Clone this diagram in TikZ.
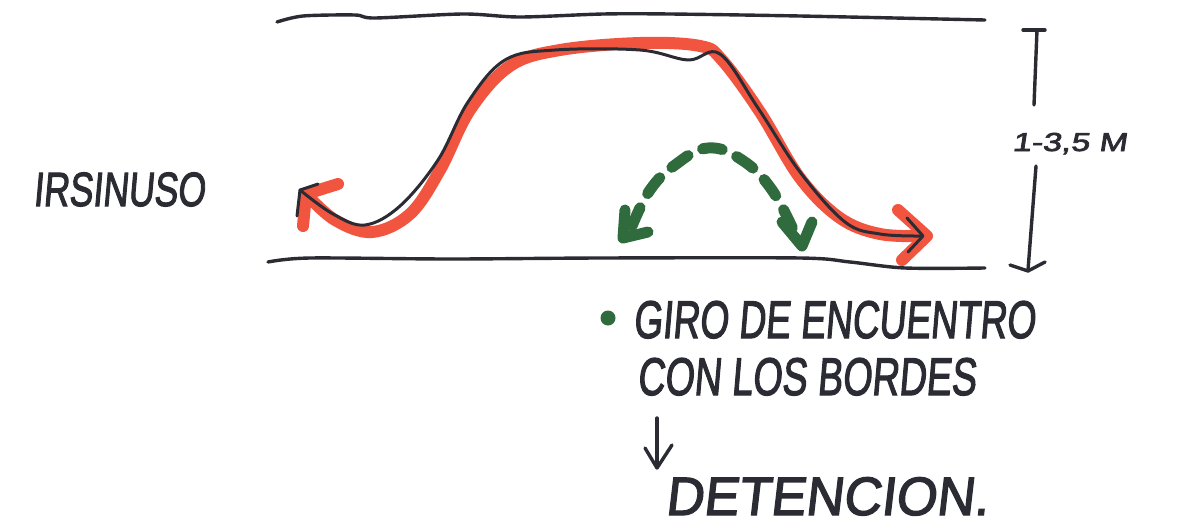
\documentclass[tikz,border=0pt]{standalone}
\usepackage{fontspec}
\newfontfamily\hand{Liberation Sans}[FakeSlant=0.12,FakeBold=2.5]
\definecolor{pen}{HTML}{2B2B33}
\definecolor{redpen}{HTML}{F2553F}
\definecolor{greenpen}{HTML}{2F6B3C}
\tikzset{
  pline/.style={draw=pen, line width=3.4pt, line cap=round, line join=round},
  redline/.style={draw=redpen, line width=12pt, line cap=round, line join=round},
  blkline/.style={draw=pen, line width=3pt, line cap=round, line join=round},
  grnline/.style={draw=greenpen, line width=11pt, line cap=round, line join=round},
  txt/.style={inner sep=0pt, text=pen, anchor=base west}
}
\begin{document}
\begin{tikzpicture}[x=1pt,y=-1pt]
\useasboundingbox[fill=white] (0,0) rectangle (1177,525);
% corridor borders
\draw[pline] plot[smooth,tension=0.5] coordinates {(277,22) (303,16) (355,15) (375,18) (463,14) (520,17) (603,14) (670,14) (800,16) (985,20)};
\draw[pline] plot[smooth,tension=0.5] coordinates {(268,262) (310,258) (450,259) (600,258) (800,258) (850,262) (905,268) (985,268)};
% red path
\draw[redline] plot[smooth,tension=0.6] coordinates {(306,194) (335,220) (372,232) (410,214) (440,170) (470,110) (510,66) (560,50) (640,43) (700,46) (722,60) (760,112) (800,178) (840,218) (880,234) (925,236)};
\draw[redline] (306,194) -- (338,184);
\draw[redline] (306,194) -- (303,226);
\draw[redline] (898,210) -- (927,236) -- (902,260);
% black path over red
\draw[blkline] plot[smooth,tension=0.6] coordinates {(300,190) (333,214) (365,225) (400,206) (438,160) (468,102) (505,60) (555,50) (640,50) (688,60) (720,54) (758,108) (800,172) (845,222) (880,234) (922,236)};
\draw[blkline] (300,190) -- (318,184);
\draw[blkline] (300,190) -- (297,216);
\draw[blkline] (907,218) -- (923,236) -- (908,252);
% green dashed double arrow
\draw[grnline, dash pattern=on 20pt off 16pt] plot[smooth,tension=0.7] coordinates {(632,226) (650,190) (675,165) (708,148) (742,160) (772,190) (796,236)};
\draw[grnline] (625,210) -- (623,238) -- (648,232);
\draw[grnline] (782,222) -- (802,246) -- (812,222);
% dimension
\draw[pline] (1023,30) -- (1045,30);
\draw[pline] (1037,30) -- (1034,105);
\draw[pline] (1036,166) -- (1028,270);
\draw[pline] (1010,265) -- (1028,271) -- (1045,262);
\node[txt, font=\hand\fontsize{26}{26}\selectfont] (dim) at (1012,151) {\scalebox{1.3}[1]{1-3,5 M}};
% labels
\node[txt, font=\hand\fontsize{48}{48}\selectfont] (irs) at (33,206) {\scalebox{0.74}[1]{IRSINUSO}};
\fill[greenpen] (608,318) circle (7.5);
\node[txt, font=\hand\fontsize{53}{53}\selectfont] (giro) at (633,338) {\scalebox{0.70}[1]{GIRO DE ENCUENTRO}};
\node[txt, font=\hand\fontsize{53}{53}\selectfont] (con) at (637,395) {\scalebox{0.71}[1]{CON LOS BORDES}};
\draw[pline] (657,418) -- (657,467);
\draw[pline] (645,448) -- (657,468) -- (672,445);
\node[txt, font=\hand\fontsize{54}{54}\selectfont] (det) at (665,515) {\scalebox{0.97}[1]{DETENCION.}};
\end{tikzpicture}
\end{document}
